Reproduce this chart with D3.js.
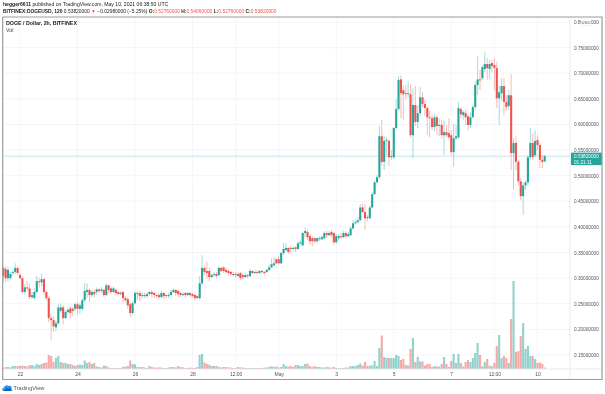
<!DOCTYPE html>
<html><head><meta charset="utf-8">
<script src="https://cdn.jsdelivr.net/npm/d3@7"></script>
<style>html,body{margin:0;padding:0;background:#fff;overflow:hidden}svg{display:block;font-family:"Liberation Sans",Arial,sans-serif;filter:blur(.25px)}</style>
</head><body><svg id="c" width="605" height="394"></svg>
<script>
const opens=[.320,.318,.300,.300,.310,.312,.320,.306,.300,.273,
.282,.280,.263,.261,.273,.294,.292,.298,.273,.261,
.222,.218,.204,.212,.236,.243,.222,.234,.241,.240,
.240,.249,.240,.240,.257,.273,.277,.267,.273,.273,
.278,.275,.277,.267,.286,.280,.273,.277,.273,.269,
.273,.261,.259,.249,.232,.251,.269,.271,.267,.267,
.265,.269,.273,.271,.267,.267,.263,.271,.267,.265,
.267,.273,.277,.275,.271,.267,.271,.267,.271,.269,
.267,.265,.261,.290,.320,.314,.314,.302,.306,.308,
.306,.320,.321,.316,.314,.312,.308,.306,.308,.310,
.306,.302,.306,.304,.314,.310,.312,.310,.314,.312,
.312,.316,.321,.325,.337,.337,.329,.349,.355,.359,
.359,.357,.360,.357,.368,.364,.388,.390,.382,.378,
.378,.372,.376,.376,.378,.388,.384,.390,.388,.370,
.378,.382,.380,.388,.382,.384,.397,.407,.409,.413,
.438,.429,.419,.417,.438,.464,.487,.497,.577,.527,
.568,.568,.536,.536,.593,.630,.688,.667,.661,.659,
.659,.579,.638,.605,.622,.653,.640,.632,.614,.612,
.595,.614,.597,.599,.579,.585,.583,.579,.546,.573,
.575,.630,.618,.622,.616,.599,.614,.634,.677,.688,
.690,.708,.718,.708,.720,.716,.710,.651,.661,.675,
.644,.636,.657,.544,.564,.527,.489,.460,.481,.487,
.536,.564,.540,.570,.560,.531,.5276];
const closes=[.304,.300,.316,.308,.312,.320,.310,.300,.273,.282,
.280,.263,.267,.273,.294,.292,.298,.273,.261,.222,
.218,.206,.212,.243,.243,.222,.234,.238,.232,.236,
.249,.240,.247,.257,.275,.277,.267,.273,.269,.278,
.275,.278,.267,.286,.277,.273,.280,.271,.269,.271,
.261,.257,.247,.232,.251,.271,.271,.265,.267,.265,
.269,.273,.269,.267,.265,.263,.271,.265,.265,.267,
.273,.277,.271,.269,.267,.269,.267,.271,.267,.265,
.261,.261,.290,.320,.312,.310,.302,.306,.308,.304,
.320,.314,.314,.312,.310,.308,.306,.308,.304,.300,
.302,.306,.304,.314,.310,.312,.310,.314,.312,.310,
.316,.321,.327,.329,.329,.329,.349,.357,.359,.351,
.357,.359,.357,.368,.370,.388,.392,.380,.372,.372,
.372,.378,.378,.380,.388,.384,.388,.384,.370,.382,
.382,.380,.388,.382,.386,.397,.407,.409,.413,.438,
.429,.417,.417,.438,.464,.487,.497,.577,.527,.568,
.570,.536,.538,.593,.630,.687,.661,.659,.659,.661,
.579,.638,.605,.622,.653,.640,.632,.614,.612,.595,
.614,.597,.599,.579,.585,.579,.575,.546,.573,.577,
.632,.620,.624,.614,.599,.614,.634,.677,.688,.687,
.712,.718,.710,.718,.714,.710,.651,.663,.675,.644,
.634,.657,.544,.564,.527,.489,.460,.481,.487,.536,
.564,.536,.568,.560,.531,.527,.5382];
const highs=[.325,.323,.323,.312,.316,.329,.323,.310,.304,.288,
.294,.288,.273,.280,.304,.300,.308,.300,.277,.265,
.230,.226,.218,.249,.251,.247,.238,.243,.245,.245,
.253,.253,.251,.261,.290,.290,.280,.277,.277,.282,
.280,.282,.280,.290,.288,.284,.284,.280,.275,.275,
.275,.265,.263,.253,.255,.275,.275,.275,.273,.271,
.273,.275,.277,.273,.269,.271,.275,.273,.269,.271,
.277,.280,.278,.277,.273,.273,.273,.273,.273,.271,
.269,.267,.304,.345,.323,.333,.320,.310,.312,.312,
.323,.323,.323,.320,.316,.314,.312,.312,.312,.312,
.308,.310,.308,.318,.316,.316,.316,.316,.316,.314,
.318,.327,.339,.341,.339,.343,.351,.370,.368,.360,
.362,.362,.362,.372,.374,.390,.399,.394,.386,.382,
.380,.380,.382,.384,.392,.392,.392,.394,.390,.386,
.386,.388,.392,.392,.390,.401,.413,.415,.419,.444,
.446,.444,.423,.442,.468,.491,.501,.597,.609,.577,
.575,.570,.550,.595,.649,.694,.696,.675,.677,.685,
.679,.671,.675,.638,.673,.663,.648,.636,.628,.618,
.620,.618,.612,.609,.609,.599,.612,.589,.601,.599,
.644,.634,.628,.628,.620,.624,.638,.683,.733,.706,
.716,.741,.730,.726,.726,.730,.722,.677,.690,.690,
.657,.667,.698,.573,.577,.531,.495,.487,.491,.540,
.593,.583,.589,.579,.566,.540,.5406];
const lows=[.290,.292,.294,.296,.304,.308,.306,.298,.269,.269,
.275,.259,.259,.259,.271,.282,.284,.267,.257,.214,
.179,.195,.196,.208,.232,.210,.220,.230,.222,.226,
.236,.230,.230,.236,.253,.261,.253,.263,.263,.267,
.271,.271,.263,.265,.271,.269,.271,.267,.267,.267,
.253,.253,.240,.224,.228,.249,.257,.255,.261,.261,
.261,.265,.263,.261,.261,.259,.261,.259,.261,.261,
.265,.271,.265,.263,.263,.265,.263,.265,.263,.263,
.257,.259,.257,.286,.306,.298,.294,.300,.302,.300,
.304,.312,.310,.308,.306,.304,.304,.302,.302,.296,
.298,.300,.300,.302,.308,.308,.308,.308,.308,.306,
.310,.314,.320,.323,.327,.327,.327,.345,.353,.347,
.349,.353,.351,.355,.364,.362,.378,.374,.366,.362,
.368,.368,.372,.374,.376,.378,.382,.380,.366,.368,
.374,.376,.378,.378,.380,.382,.395,.405,.407,.411,
.427,.395,.411,.415,.436,.462,.485,.493,.519,.511,
.540,.519,.531,.532,.589,.628,.612,.609,.648,.653,
.575,.534,.597,.593,.616,.634,.616,.579,.575,.589,
.587,.579,.577,.573,.540,.575,.571,.540,.517,.570,
.571,.612,.609,.599,.589,.593,.612,.628,.657,.667,
.687,.702,.687,.690,.702,.667,.632,.599,.648,.618,
.628,.628,.511,.472,.511,.481,.452,.423,.472,.481,
.531,.531,.536,.550,.515,.515,.5276];
const volumes=[1,2,2,1.5,3,3,3,3,3.5,3,
2.5,4,4,3,5,4,5,6,6.5,14,
13,7,11,13,7,6,6,5,5,4,
3,4,4.5,4,8.5,6,7,5,6,2.5,
2,1.5,3.5,3,1.5,1,1,1,1,1,
2,2.5,3,8.5,5,4.5,2,2,2,1.5,
1,3,2,1.5,1.5,1.5,1.5,1,1,1.5,
2,2,1.5,3,2,1.5,1,1,1.5,1,
1,2,14,15,6.5,5,4.5,3,3,3,
2,1.5,2,2,1.5,1.5,1,1,2,1.5,
1.5,1,1,1,1,1,1,1,1,1.5,
1.5,2,3,2,2.5,1.5,2,5,3,2.5,
3,2,4,4,3,3,5,5.5,3,2,
3,2,2,1.5,1.5,2,1.5,1.5,2,1,
1,1,1,1.5,1.5,3,3,3,4,5.5,
3.5,7,3,3.5,3.5,8,3,21,33.5,12,
11,11,11,11,14,13,9,10,4,3.5,
20,31,7,12,7.5,7.5,3.5,5,5,2,
3,2.5,2.5,5,12,5,2,8,15,6,
15,6,2.5,7,9,7,11,16,26,14,
2.5,7,10,3.5,2.5,6,23,34,11,13,
11,6,50,88,17,18,33,46,20,23,
13,13,10,6,6.5,5,1.5];
const priceTicks=[.8,.75,.7,.65,.6,.55,.5,.45,.4,.35,.3,.25,.2,.15];
const timeTicks=["2021-04-22T00:00Z","2021-04-24T00:00Z","2021-04-26T00:00Z","2021-04-28T00:00Z","2021-04-29T12:00Z","2021-05-01T00:00Z","2021-05-03T00:00Z","2021-05-05T00:00Z","2021-05-07T00:00Z","2021-05-08T12:00Z","2021-05-10T00:00Z"];
const timeLabels=["22","24","26","28","12:00","May","3","5","7","12:00","10"];
const firstBar=Date.UTC(2021,3,21,10), barMs=2*3600e3, lastPrice=0.5382;

const UP="#26a69a",DN="#ef5350",GRID="#f0f3fa",TXT="#50535e";
const x=d3.scaleUtc().domain([new Date(firstBar),new Date(firstBar+226*barMs)]).range([3.23,544.7]);
const y=d3.scaleLinear().domain([.8,.15]).range([22,355]);
const v=d3.scaleLinear().domain([0,88]).range([369,281]);
const tDates=timeTicks.map(d=>new Date(d));
const bars=closes.map((c,i)=>({t:new Date(firstBar+i*barMs),o:opens[i],h:highs[i],l:lows[i],c,v:volumes[i]}));
const svg=d3.select("#c");
const col=d=>d.c>=d.o?UP:DN;
const BW=2.1;

svg.append("g").selectAll("line").data(priceTicks).join("line").attr("x1",3).attr("x2",570).attr("y1",y).attr("y2",y).attr("stroke",GRID).attr("stroke-width",.8);
svg.append("g").selectAll("line").data(tDates).join("line").attr("x1",x).attr("x2",x).attr("y1",18).attr("y2",369).attr("stroke",GRID).attr("stroke-width",.8);
svg.append("line").attr("x1",3).attr("x2",570).attr("y1",y(lastPrice)).attr("y2",y(lastPrice)).attr("stroke",UP).attr("stroke-opacity",.3).attr("stroke-width",.9);
svg.append("g").selectAll("rect").data(bars).join("rect").attr("x",d=>x(d.t)-BW/2).attr("width",BW).attr("y",d=>v(d.v)).attr("height",d=>v(0)-v(d.v)).attr("fill",col).attr("fill-opacity",.5);
svg.append("g").selectAll("line").data(bars).join("line").attr("x1",d=>x(d.t)).attr("x2",d=>x(d.t)).attr("y1",d=>y(d.h)).attr("y2",d=>y(d.l)).attr("stroke",col).attr("stroke-opacity",.4).attr("stroke-width",1);
svg.append("g").selectAll("rect").data(bars).join("rect").attr("x",d=>x(d.t)-BW/2).attr("width",BW).attr("y",d=>y(Math.max(d.o,d.c))).attr("height",d=>Math.max(1,Math.abs(y(d.o)-y(d.c)))).attr("fill",col);

const ay=svg.append("g").attr("transform","translate(570,0)").call(d3.axisRight(y).tickValues(priceTicks).tickFormat(d=>d3.format(".8f")(d)).tickSize(0).tickPadding(4));
const ax=svg.append("g").attr("transform","translate(0,369)").call(d3.axisBottom(x).tickValues(tDates).tickFormat((d,i)=>timeLabels[i]).tickSize(0).tickPadding(3));
ay.selectAll("text").attr("fill",TXT).style("font-size","4.7px");
ax.selectAll("text").attr("fill",TXT).style("font-size","5px");
ay.select(".domain").remove();
ax.select(".domain").remove();
svg.append("line").attr("x1",3).attr("x2",602).attr("y1",369).attr("y2",369).attr("stroke","#e6e8ee").attr("stroke-width",.9);
svg.append("line").attr("x1",570).attr("x2",570).attr("y1",17).attr("y2",379).attr("stroke","#e6e8ee").attr("stroke-width",.9);

svg.append("rect").attr("x",581).attr("y",19).attr("width",10).attr("height",6.5).attr("rx",1.2).attr("fill","#fff").attr("stroke","#e0e3eb").attr("stroke-width",.5);
svg.append("text").attr("x",586).attr("y",23.8).attr("text-anchor","middle").attr("fill",TXT).style("font-size","4.2px").text("USD");
svg.append("rect").attr("x",571).attr("y",y(lastPrice)-3.5).attr("width",31).attr("height",12.5).attr("fill",UP);
svg.append("text").attr("x",574).attr("y",y(lastPrice)+1.8).attr("fill","#fff").style("font-size","4.7px").text("0.53820000");
svg.append("text").attr("x",574).attr("y",y(lastPrice)+7.4).attr("fill","#fff").style("font-size","4.7px").text("01:21:11");

svg.append("path").attr("d","M2.7,17V379.5H602V17H2.7").attr("fill","none").attr("stroke","#9b9b9b").attr("stroke-width",1.2);

const h1=svg.append("text").attr("x",3).attr("y",6.4).attr("fill","#222").style("font-size","5.1px");
h1.append("tspan").attr("font-weight","bold").text("hegger6611");
h1.append("tspan").text(" published on TradingView.com, May 10, 2021 06:38:50 UTC");
const h2=svg.append("text").attr("x",3).attr("y",12.6).attr("fill","#222").style("font-size","4.9px");
h2.append("tspan").attr("font-weight","bold").text("BITFINEX:DOGEUSD, 120");
h2.append("tspan").text(" 0.53820000 ");
h2.append("tspan").attr("fill",DN).text("▼");
h2.append("tspan").text(" −0.02980000 (−5.25%) ");
[["O:","0.52760000"],["H:","0.54060000"],["L:","0.52760000"],["C:","0.53820000"]].forEach(([a,b])=>{
  h2.append("tspan").attr("font-weight","bold").text(a);
  h2.append("tspan").attr("fill",DN).text(b+" ");
});
svg.append("text").attr("x",6).attr("y",24.6).attr("fill","#222").attr("font-weight","bold").style("font-size","5.3px").text("DOGE / Dollar, 2h, BITFINEX");
svg.append("text").attr("x",6).attr("y",31.6).attr("fill","#444").style("font-size","5.3px").text("Vol");

svg.append("path").attr("d","M3,391C2,391 2,388 4,387.6C4.4,385.6 7,384.2 8.6,386C10.6,385.4 12,387 11.6,388.6L12.4,391Z").attr("fill","#2196f3");
svg.append("path").attr("d","M4,391L6.6,388L8,389.2L9.6,387.4L11.4,391Z").attr("fill","#0c5fa8");
svg.append("text").attr("x",13.5).attr("y",389.7).attr("fill","#50535e").style("font-size","5.6px").text("TradingView");
</script></body></html>
